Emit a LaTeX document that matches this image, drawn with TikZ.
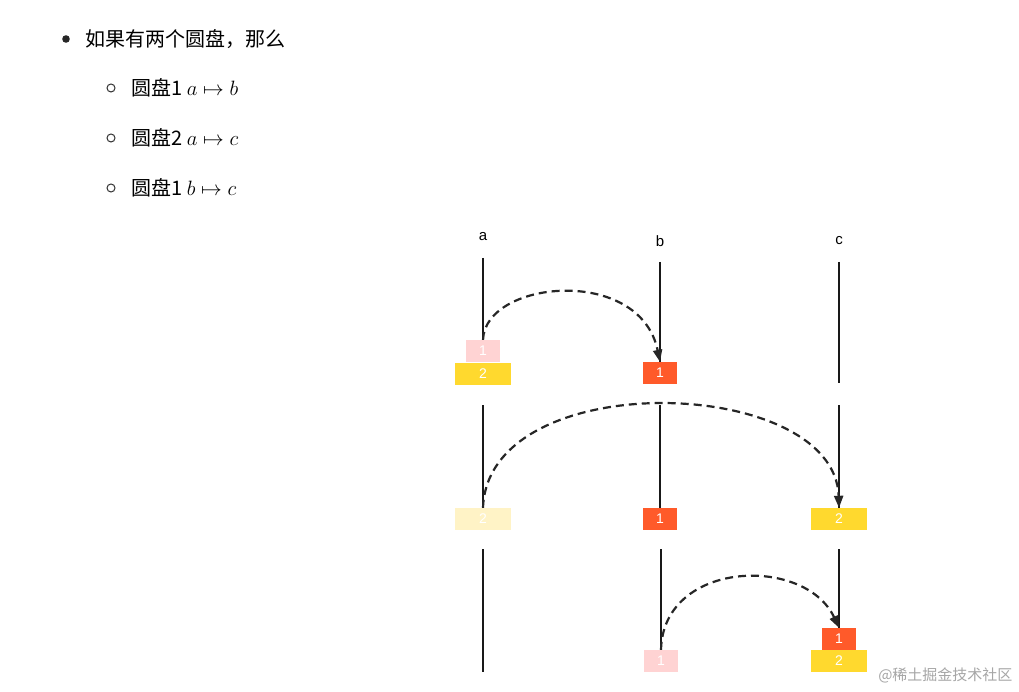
\documentclass[tikz,border=0pt]{standalone}
\usepackage{fontspec}
\newfontfamily\cjk{Noto Sans CJK SC}
\newfontfamily\lab{Liberation Sans}
\usetikzlibrary{arrows.meta}
\definecolor{dpink}{HTML}{FFD3D3}
\definecolor{dyel}{HTML}{FFD92E}
\definecolor{dfade}{HTML}{FFF3C6}
\definecolor{dor}{HTML}{FF5A2A}
\tikzset{
 pole/.style={line width=2pt,black!90},
 disk/.style={draw=none,minimum height=22pt,inner sep=0pt,text=white,font=\lab\fontsize{14}{15}\selectfont},
 move/.style={line width=2.2pt,dash pattern=on 8pt off 5pt,black!85,-{Triangle[length=12pt,width=9pt]}},
 txt/.style={anchor=west,inner sep=0pt,font=\cjk\fontsize{20}{24}\selectfont},
 plab/.style={font=\lab\fontsize{15}{16}\selectfont}
}
\begin{document}
\begin{tikzpicture}[x=1pt,y=-1pt]
\useasboundingbox[fill=white] (0,0) rectangle (1019,692);
% text
\fill[black!85] (66,39) circle (3.8);
\node[txt] (t0) at (85,39) {如果有两个圆盘，那么};
\foreach \y/\n/\p/\q in {88/1/a/b,138/2/a/c,188/1/b/c}{
 \draw[black!80,line width=1pt] (111,\y) circle (4);
 \node[txt] at (131,\y) {圆盘\n\ {\fontsize{21}{24}\selectfont$\p\mapsto \q$}};
}
% labels
\node[plab] (la) at (483,237) {a};
\node[plab] (lb) at (660,241) {b};
\node[plab] (lc) at (839,241) {c};
% row 1
\node[disk,fill=dpink,minimum width=34pt] (a1) at (483,351) {1};
\node[disk,fill=dyel,minimum width=56pt] (a2) at (483,373.5) {2};
\node[disk,fill=dor,minimum width=34pt] (b1) at (660,373) {1};
\draw[pole] (483,258) -- (a1.north);
\draw[pole] (660,262) -- (b1.north);
\coordinate (c1b) at (839,383);
\draw[pole] (839,262) -- (c1b);
\draw[move] (a1.north) .. controls (485,280) and (640,265) .. (b1.north);
% row 2
\node[disk,fill=dfade,minimum width=56pt] (a2r) at (483,519) {2};
\node[disk,fill=dor,minimum width=34pt] (b1r) at (660,519) {1};
\node[disk,fill=dyel,minimum width=56pt] (c2r) at (839,519) {2};
\draw[pole] (483,405) -- (a2r.north);
\draw[pole] (660,405) -- (b1r.north);
\draw[pole] (839,405) -- (c2r.north);
\draw[move] (a2r.north) .. controls (488,365) and (835,375) .. (c2r.north);
% row 3
\node[disk,fill=dpink,minimum width=34pt] (b1f) at (661,661) {1};
\node[disk,fill=dor,minimum width=34pt] (c1) at (839,639) {1};
\node[disk,fill=dyel,minimum width=56pt] (c2) at (839,661) {2};
\coordinate (a3b) at (483,672);
\draw[pole] (483,549) -- (a3b);
\draw[pole] (661,549) -- (b1f.north);
\draw[pole] (839,549) -- (c1.north);
\draw[move] (b1f.north) .. controls (663,560) and (805,555) .. (c1.north);
\node[anchor=east,text=black!35,font=\cjk\fontsize{15}{16}\selectfont] (wm) at (1016,675) {@稀土掘金技术社区};
\end{tikzpicture}
\end{document}
